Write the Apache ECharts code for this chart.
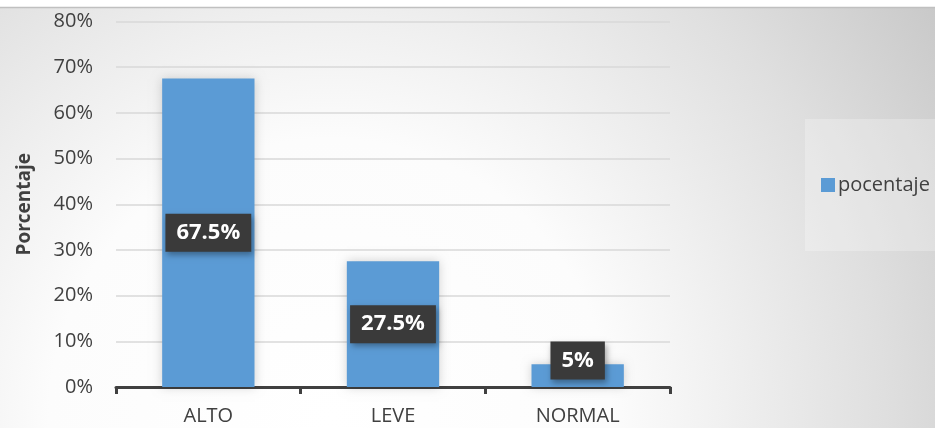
<!DOCTYPE html>
<html><head><meta charset="utf-8">
<script src="https://cdn.jsdelivr.net/npm/echarts@6/dist/echarts.min.js"></script>
<style>html,body{margin:0;padding:0;background:#fff}#c{width:935px;height:428px}</style>
</head><body><div id="c"></div>
<script>
const categories = ['ALTO', 'LEVE', 'NORMAL'];
const values = [67.5, 27.5, 5];
const labels = ['67.5%', '27.5%', '5%'];
const seriesName = 'pocentaje';
const yTicks = [0, 10, 20, 30, 40, 50, 60, 70, 80];

const chart = echarts.init(document.getElementById('c'));
const font = '"Open Sans", sans-serif';
const bg = new echarts.graphic.RadialGradient(330, 420, 740, [
  { offset: 0, color: '#ffffff' }, { offset: 0.38, color: '#fcfcfc' },
  { offset: 0.56, color: '#eeeeee' }, { offset: 0.75, color: '#dfdfdf' },
  { offset: 1, color: '#c8c8c8' }], true);
chart.setOption({
  animation: false,
  textStyle: { fontFamily: font },
  graphic: [
    { type: 'rect', z: -10, silent: true, shape: { x: 0, y: 7, width: 935, height: 421 }, style: { fill: bg } },
    { type: 'line', z: -9, silent: true, shape: { x1: 0, y1: 7.5, x2: 935, y2: 7.5 }, style: { stroke: '#c0c0c0', lineWidth: 1.5 } }
  ],
  legend: {
    show: true, left: 805, top: 119, orient: 'vertical',
    backgroundColor: 'rgba(255,255,255,0.25)',
    padding: [56, 20, 56, 16],
    itemWidth: 14, itemHeight: 14, itemGap: 0,
    icon: 'rect',
    textStyle: { fontSize: 20, color: '#404040', fontFamily: font, padding: [0, 0, 0, -2] },
    data: [seriesName]
  },
  grid: { left: 116, right: 265, top: 21.5, bottom: 41, containLabel: false },
  xAxis: {
    type: 'category', data: categories,
    axisLine: { lineStyle: { color: '#404040', width: 3 } },
    axisTick: { show: true, alignWithLabel: false, length: 7, lineStyle: { color: '#404040', width: 3 } },
    axisLabel: { fontSize: 20, color: '#404040', margin: 19, fontFamily: font }
  },
  yAxis: {
    type: 'value', min: 0, max: 80, interval: 10,
    name: 'Porcentaje', nameLocation: 'middle', nameGap: 82, nameRotate: 90,
    nameTextStyle: { fontSize: 19, fontWeight: 'bold', color: '#404040', fontFamily: font },
    axisLine: { show: false }, axisTick: { show: false },
    splitLine: { lineStyle: { color: '#d9d9d9', width: 1.5 } },
    axisLabel: { fontSize: 20, color: '#404040', margin: 23, fontFamily: font,
      formatter: v => yTicks.includes(v) ? v + '%' : '' }
  },
  series: [{
    name: seriesName, type: 'bar', barWidth: '50%',
    itemStyle: { color: '#5b9bd5', shadowBlur: 10, shadowColor: 'rgba(0,0,0,0.18)' },
    data: values.map((v, i) => ({
      value: v,
      label: i === 2 ? { offset: [0, -15] } : {}
    })),
    label: {
      show: true, position: 'inside',
      formatter: p => labels[p.dataIndex],
      fontSize: 22, fontWeight: 'bold', color: '#ffffff', fontFamily: font,
      backgroundColor: '#3a3a3a', padding: [9, 11, 7, 11],
      shadowBlur: 6, shadowColor: 'rgba(0,0,0,0.35)', shadowOffsetX: 2, shadowOffsetY: 3
    }
  }]
});
</script></body></html>
